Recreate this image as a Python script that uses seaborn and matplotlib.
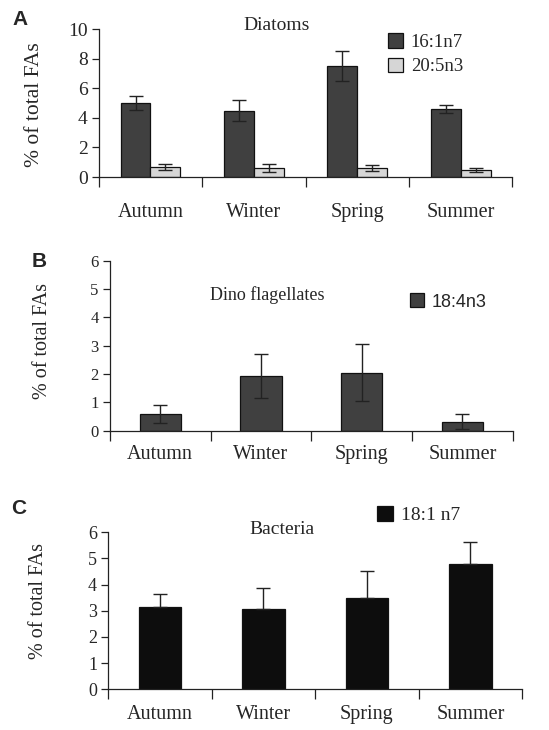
import pandas as pd
import numpy as np
from matplotlib import pyplot as plt
from matplotlib.ticker import FixedLocator
import seaborn as sns

seasons = ["Autumn", "Winter", "Spring", "Summer"]

diatom_161 = [5.0, 4.48, 7.5, 4.6]
diatom_161_err = [0.48, 0.72, 1.0, 0.3]
diatom_205 = [0.68, 0.6, 0.6, 0.46]
diatom_205_err = [0.22, 0.25, 0.2, 0.12]

dino_184 = [0.59, 1.93, 2.05, 0.32]
dino_184_err = [0.31, 0.78, 1.0, 0.27]

bact_181 = [3.13, 3.08, 3.49, 4.79]
bact_181_err = [0.5, 0.79, 1.02, 0.83]

sns.set_style("ticks")
plt.rcParams["font.family"] = ["Liberation Serif", "DejaVu Serif"]

fig = plt.figure(figsize=(5.49, 7.30), dpi=100)
ax_a = fig.add_axes([0.180, 0.7575, 0.753, 0.2027])
ax_b = fig.add_axes([0.200, 0.410, 0.734, 0.233])
ax_c = fig.add_axes([0.197, 0.0558, 0.754, 0.215])

df_a = pd.concat([
    pd.DataFrame({"season": seasons, "value": diatom_161, "err": diatom_161_err, "acid": "16:1n7"}),
    pd.DataFrame({"season": seasons, "value": diatom_205, "err": diatom_205_err, "acid": "20:5n3"}),
])
df_b = pd.DataFrame({"season": seasons, "value": dino_184, "err": dino_184_err, "acid": "18:4n3"})
df_c = pd.DataFrame({"season": seasons, "value": bact_181, "err": bact_181_err, "acid": "18:1 n7"})


def draw(ax, df, palette, width, ylim, yticks, upper_only=False):
    sns.barplot(data=df, x="season", y="value", hue="acid", palette=palette,
                width=width, gap=0, errorbar=None, edgecolor="#111111",
                linewidth=0.9, ax=ax, saturation=1)
    for cont, (_, sub) in zip(ax.containers, df.groupby("acid", sort=False)):
        xs = [p.get_x() + p.get_width() / 2 for p in cont.patches]
        err = sub["err"].to_numpy()
        yerr = [np.zeros_like(err), err] if upper_only else err
        ax.errorbar(xs, sub["value"], yerr=yerr, fmt="none", ecolor="#222222",
                    elinewidth=1.0, capsize=5, capthick=1.0)
    sns.despine(ax=ax)
    ax.set_xlim(-0.5, 3.5)
    ax.set_ylim(*ylim)
    ax.set_yticks(yticks)
    ax.set_xlabel("")
    ax.set_ylabel("% of total FAs", fontsize=14.5)
    ax.xaxis.set_minor_locator(FixedLocator([-0.5, 0.5, 1.5, 2.5, 3.5]))
    ax.tick_params(axis="x", which="major", length=0, labelsize=14.5)
    ax.tick_params(axis="x", which="minor", length=7, width=0.9, direction="out", color="#222222")
    ax.tick_params(axis="y", length=5, width=0.9, direction="out", color="#222222", pad=3)
    for s in ax.spines.values():
        s.set_color("#222222")
        s.set_linewidth(0.9)


# A: diatoms
draw(ax_a, df_a, ["#404040", "#d6d6d6"], 0.58, (0, 10), [0, 2, 4, 6, 8, 10])
ax_a.tick_params(axis="x", which="major", pad=19)
ax_a.tick_params(axis="y", labelsize=14)
ax_a.yaxis.set_label_coords(-0.133, 0.49)
ax_a.yaxis.label.set_fontsize(15.5)
ax_a.text(0.431, 1.027, "Diatoms", transform=ax_a.transAxes, ha="center", va="center", fontsize=14)
h, l = ax_a.get_legend_handles_labels()
ax_a.legend(h, l, loc="upper left", bbox_to_anchor=(0.7, 0.97), frameon=False,
            fontsize=13.5, handlelength=0.8, handleheight=0.8, handletextpad=0.4,
            labelspacing=0.35, borderaxespad=0, borderpad=0)

# B: dinoflagellates
draw(ax_b, df_b, ["#404040"], 0.41, (0, 6), range(7))
ax_b.tick_params(axis="x", which="major", pad=10)
ax_b.tick_params(axis="y", labelsize=12)
ax_b.yaxis.set_label_coords(-0.144, 0.53)
ax_b.text(0.39, 0.80, "Dino flagellates", transform=ax_b.transAxes, ha="center", va="center", fontsize=13)
h, l = ax_b.get_legend_handles_labels()
ax_b.legend(h, l, loc="center left", bbox_to_anchor=(0.745, 0.757), frameon=False,
            prop={"family": ["Liberation Sans", "DejaVu Sans"], "size": 13},
            handlelength=0.8, handleheight=0.8, handletextpad=0.4, borderaxespad=0, borderpad=0)

# C: bacteria
draw(ax_c, df_c, ["#0d0d0d"], 0.41, (0, 6), range(7), upper_only=True)
ax_c.tick_params(axis="x", which="major", pad=11)
ax_c.tick_params(axis="y", labelsize=13)
ax_c.yaxis.set_label_coords(-0.145, 0.56)
ax_c.text(0.42, 1.015, "Bacteria", transform=ax_c.transAxes, ha="center", va="center", fontsize=14)
h, l = ax_c.get_legend_handles_labels()
ax_c.legend(h, l, loc="center left", bbox_to_anchor=(0.65, 1.11), frameon=False,
            fontsize=14, handlelength=0.8, handleheight=0.8, handletextpad=0.4,
            borderaxespad=0, borderpad=0)

for letter, x, y in [("A", 0.022, 0.973), ("B", 0.058, 0.642), ("C", 0.02, 0.303)]:
    fig.text(x, y, letter, fontsize=15, fontweight="bold",
             family=["Liberation Sans", "DejaVu Sans"], va="center", ha="left")

fig.savefig("out.png", dpi=100)
